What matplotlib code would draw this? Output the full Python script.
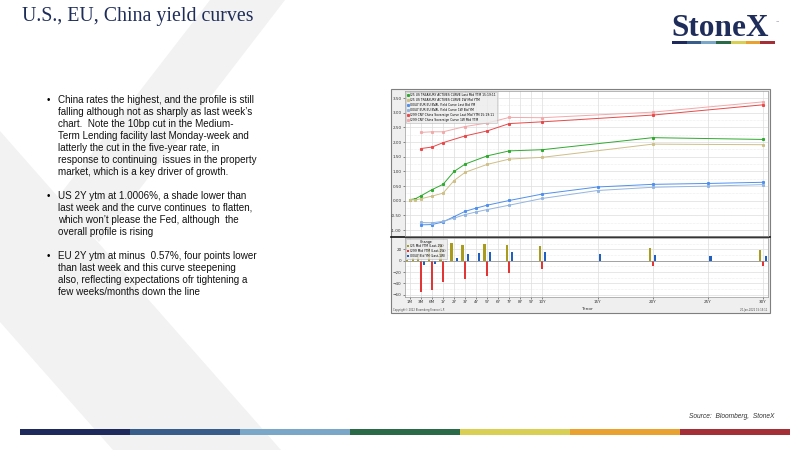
import numpy as np
import matplotlib
matplotlib.use("Agg")
import matplotlib.pyplot as plt
from matplotlib.patches import Polygon, Rectangle

# ---- data ----
tenor_labels = ['1M', '3M', '6M', '1Y', '2Y', '3Y', '4Y', '5Y', '6Y', '7Y', '8Y', '9Y',
                '10Y', '15Y', '20Y', '25Y', '30Y']
tenor_years = [1/12, 0.25, 0.5, 1, 2, 3, 4, 5, 6, 7, 8, 9, 10, 15, 20, 25, 30]

us_tenors = [1/12, 2/12, 0.25, 0.5, 1, 2, 3, 5, 7, 10, 20, 30]
us_last = [0.04, 0.07, 0.17, 0.38, 0.56, 1.00, 1.25, 1.53, 1.70, 1.74, 2.15, 2.09]
us_1w = [0.03, 0.03, 0.07, 0.16, 0.26, 0.69, 0.97, 1.24, 1.42, 1.48, 1.93, 1.91]

eu_tenors = [0.25, 0.5, 1, 2, 3, 4, 5, 7, 10, 15, 20, 25, 30]
eu_last = [-0.82, -0.81, -0.72, -0.54, -0.36, -0.25, -0.15, 0.01, 0.23, 0.47, 0.56, 0.59, 0.63]
eu_1w = [-0.74, -0.75, -0.70, -0.59, -0.47, -0.38, -0.30, -0.15, 0.08, 0.35, 0.46, 0.50, 0.55]

cn_tenors = [0.25, 0.5, 1, 3, 5, 7, 10, 20, 30]
cn_last = [1.78, 1.83, 1.98, 2.21, 2.38, 2.63, 2.69, 2.92, 3.27]
cn_1w = [2.33, 2.35, 2.35, 2.53, 2.65, 2.84, 2.83, 3.02, 3.37]

legend_top = ['I25 US TREASURY ACTIVES CURVE Last Mid YTM 15:19:11',
              'I25 US TREASURY ACTIVES CURVE 1W Mid YTM',
              'I0047 EUR EU BVAL Yield Curve Last Bid YM',
              'I0047 EUR EU BVAL Yield Curve 1W Bid YM',
              'I299 CNY China Sovereign Curve Last Mid YTM 15:19:11',
              'I299 CNY China Sovereign Curve 1W Mid YTM']
legend_chg = ['I25 Mid YTM (Last-1W)', 'I299 Mid YTM (Last-1W)', 'I0047 Bid YM (Last-1W)']

bullets = [
    ["China rates the highest, and the profile is still",
     "falling although not as sharply as last week\u2019s",
     "chart.  Note the 10bp cut in the Medium-",
     "Term Lending facility last Monday-week and",
     "latterly the cut in the five-year rate, in",
     "response to continuing  issues in the property",
     "market, which is a key driver of growth."],
    ["US 2Y ytm at 1.0006%, a shade lower than",
     "last week and the curve continues  to flatten,",
     "which won\u2019t please the Fed, although  the",
     "overall profile is rising"],
    ["EU 2Y ytm at minus  0.57%, four points lower",
     "than last week and this curve steepening",
     "also, reflecting expectations ofr tightening a",
     "few weeks/months down the line"],
]

stripe_colors = ['#1f2a5c', '#385d8a', '#7aa7c7', '#2a6a48', '#dacf55', '#e9a12f', '#a52f37']

# tenor axis: months squeezed, then one unit per year
knot_years = [1/12, 0.25, 0.5, 1, 30]
knot_pos = [0, 1, 2, 3, 32]


def tpos(years):
    return np.interp(years, knot_years, knot_pos)


W, H = 800, 450
fig = plt.figure(figsize=(8, 4.5), dpi=100)


def px_axes(x0, y0, x1, y1):
    return fig.add_axes([x0 / W, 1 - y1 / H, (x1 - x0) / W, (y1 - y0) / H])


# ---- slide background ----
bg = px_axes(0, 0, W, H)
bg.set_xlim(0, W)
bg.set_ylim(H, 0)
bg.axis('off')
wm = '#f2f2f2'
bg.add_patch(Polygon([(210, 0), (285, 0), (99, 242), (58, 197)], closed=True, fc=wm, ec='none'))
bg.add_patch(Polygon([(0, 131), (0, 322), (113, 450), (281, 450)], closed=True, fc=wm, ec='none'))

bg.text(22, 17, 'U.S., EU, China yield curves', family='Liberation Serif', fontsize=14.3,
        color='#1f2d5a', va='center', ha='left')

# logo
bg.text(671, 28, 'StoneX', family='Liberation Serif', fontsize=22.5, fontweight='bold',
        color='#1f2d5a', va='center', ha='left')
bg.text(776, 21, '\u2122', fontsize=2.5, color='#1f2d5a', va='center', ha='left')
seg = (775 - 672) / 7
for i, c in enumerate(stripe_colors):
    bg.add_patch(Rectangle((672 + i * seg, 41), seg, 3, fc=c, ec='none'))

# bottom stripe
seg = (790 - 20) / 7
for i, c in enumerate(stripe_colors):
    bg.add_patch(Rectangle((20 + i * seg, 429), seg, 6, fc=c, ec='none'))
bg.text(774, 416, 'Source:  Bloomberg,  StoneX', fontsize=4.8, style='italic',
        color='#333333', ha='right', va='center', family='Liberation Sans')

# bullet text
y = 100
for para in bullets:
    bg.text(47, y, '\u2022', fontsize=7.1, family='Liberation Sans', va='center', ha='left')
    for line in para:
        bg.text(58, y, line, fontsize=7.1, family='Liberation Sans', va='center',
                ha='left', color='#111111')
        y += 12
    y += 12

# chart frame
bg.add_patch(Rectangle((391, 89), 379, 224, fc='#efefef', ec='#7f7f7f', lw=0.8))
bg.plot([391, 770], [237, 237], color='#111111', lw=1.2)
bg.text(393, 310, 'Copyright\u00a9 2022 Bloomberg Finance L.P.', fontsize=1.8,
        color='#444444', va='center')
bg.text(767, 310, '20-Jan-2022 15:19:11', fontsize=1.8, color='#444444', va='center', ha='right')

xt = tpos(tenor_years)
xlim = (-0.45, 32.45)

# ---- upper panel: yield curves ----
ax = px_axes(405, 91, 768, 236)
ax.set_facecolor('white')
series = [
    (us_tenors, us_last, '#2faa2f', legend_top[0]),
    (us_tenors, us_1w, '#cdbf86', legend_top[1]),
    (eu_tenors, eu_last, '#4f90ee', legend_top[2]),
    (eu_tenors, eu_1w, '#93b5e0', legend_top[3]),
    (cn_tenors, cn_last, '#ea4848', legend_top[4]),
    (cn_tenors, cn_1w, '#f3a9a9', legend_top[5]),
]
handles = []
for ten, vals, col, lab in series:
    h, = ax.plot(tpos(ten), vals, color=col, lw=0.7, marker='s', ms=1.2, label=lab)
    handles.append(h)
ax.set_xlim(*xlim)
ax.set_ylim(-1.20, 3.74)
ax.set_xticks(xt)
ax.set_xticklabels([])
ax.set_yticks(np.arange(-1.0, 3.51, 0.5))
ax.set_yticks(np.arange(-0.75, 3.6, 0.5), minor=True)
ax.set_yticklabels(['%.2f' % v for v in np.arange(-1.0, 3.51, 0.5)])
ax.tick_params(axis='y', labelsize=3, length=1.5, width=0.4, pad=1, colors='#333333')
ax.tick_params(axis='y', which='minor', length=0)
ax.tick_params(axis='x', length=0)
ax.grid(True, axis='x', color='#dddddd', lw=0.5)
ax.grid(True, axis='y', which='major', color='#dddddd', lw=0.5)
ax.grid(True, axis='y', which='minor', color='#dddddd', lw=0.4, ls=(0, (1, 1.5)))
ax.set_axisbelow(True)
for s in ax.spines.values():
    s.set_color('#999999')
    s.set_linewidth(0.5)
leg = ax.legend(handles=handles, loc='upper left', fontsize=2.2, handlelength=0.8,
                handletextpad=0.4, borderpad=0.4, labelspacing=0.35, frameon=True,
                fancybox=False, bbox_to_anchor=(0.0, 1.0), borderaxespad=0.2)
leg.get_frame().set_facecolor('#ececec')
leg.get_frame().set_edgecolor('#aaaaaa')
leg.get_frame().set_linewidth(0.4)

# ---- lower panel: change in bp ----
bx = px_axes(405, 238, 768, 297)
bx.set_facecolor('white')
bw = 0.2
us_chg = (np.array(us_last) - np.array(us_1w)) * 100
cn_chg = (np.array(cn_last) - np.array(cn_1w)) * 100
eu_chg = (np.array(eu_last) - np.array(eu_1w)) * 100
b1 = bx.bar(tpos(us_tenors) - 0.24, us_chg, width=bw, color='#a99b1e')
b2 = bx.bar(tpos(cn_tenors), cn_chg, width=bw, color='#e23535')
b3 = bx.bar(tpos(eu_tenors) + 0.24, eu_chg, width=bw, color='#1f5fbf')
bx.axhline(0, color='#888888', lw=0.5)
bx.set_xlim(*xlim)
bx.set_ylim(-64, 40)
bx.set_xticks(xt)
bx.set_xticklabels(tenor_labels)
bx.set_yticks([-60, -40, -20, 0, 20])
bx.set_yticks([-50, -30, -10, 10, 30], minor=True)
bx.tick_params(axis='both', labelsize=3, length=1.5, width=0.4, pad=1, colors='#333333')
bx.tick_params(axis='y', which='minor', length=0)
bx.grid(True, axis='x', color='#dddddd', lw=0.5)
bx.grid(True, axis='y', which='major', color='#dddddd', lw=0.5)
bx.grid(True, axis='y', which='minor', color='#dddddd', lw=0.4, ls=(0, (1, 1.5)))
bx.set_axisbelow(True)
for s in bx.spines.values():
    s.set_color('#999999')
    s.set_linewidth(0.5)
bx.set_xlabel('Tenor', fontsize=3.2, labelpad=1.5, color='#333333')
leg2 = bx.legend([b1, b2, b3], legend_chg, title='Change', loc='upper left', fontsize=2.2,
                 title_fontsize=2.4, handlelength=0.8, handleheight=0.6, handletextpad=0.4,
                 borderpad=0.3, labelspacing=0.3, fancybox=False, borderaxespad=0.2)
leg2.get_frame().set_facecolor('#ececec')
leg2.get_frame().set_edgecolor('#aaaaaa')
leg2.get_frame().set_linewidth(0.4)
leg2.get_frame().set_alpha(0.85)

fig.savefig('out.png', dpi=100)
